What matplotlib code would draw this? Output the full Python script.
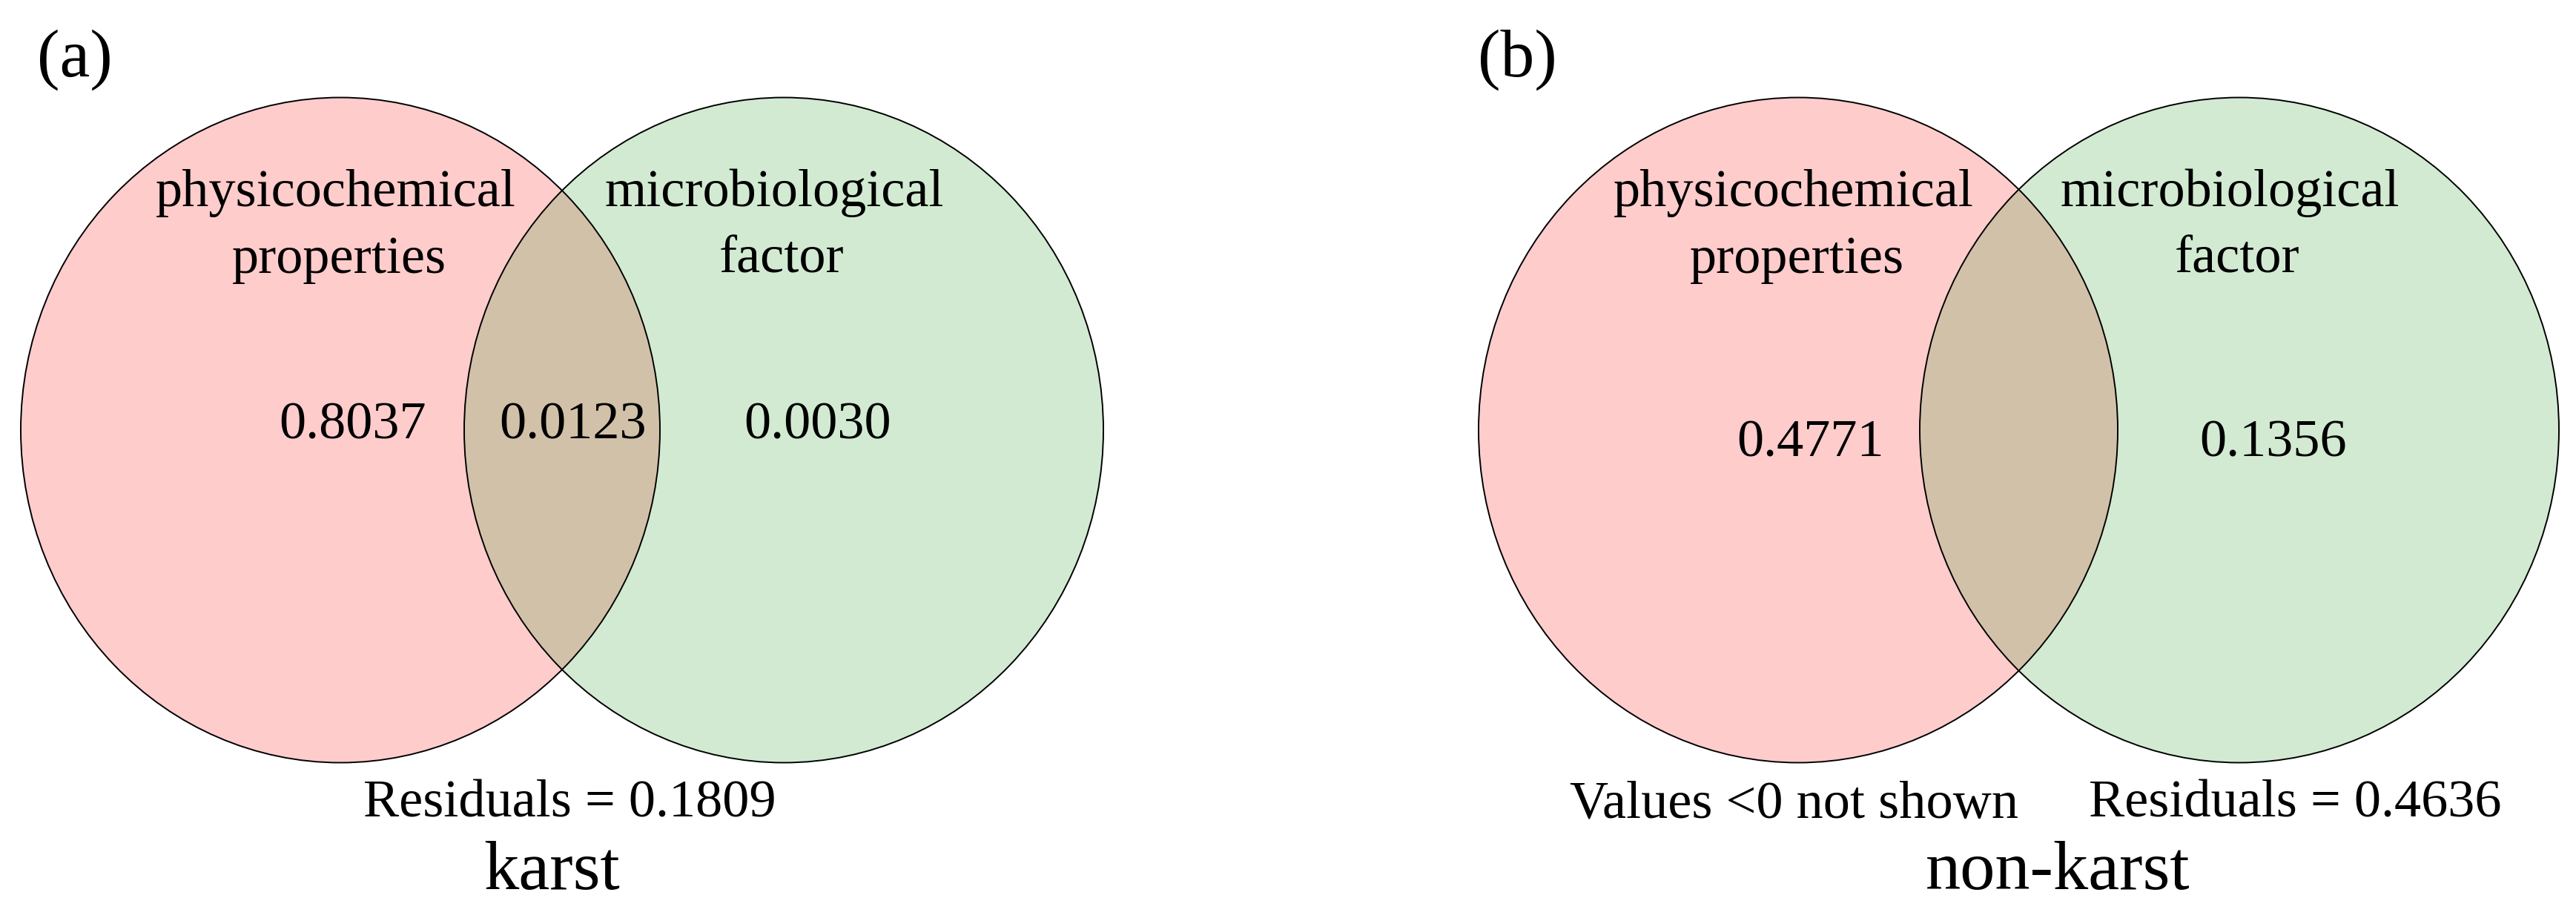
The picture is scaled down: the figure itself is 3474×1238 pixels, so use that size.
import matplotlib
matplotlib.use('Agg')
import matplotlib.pyplot as plt
from matplotlib.patches import Ellipse

# variation partitioning results (vegan style venn)
panel_tags = ['(a)', '(b)']
panel_titles = ['karst', 'non-karst']
set_names = ['physicochemical\nproperties', 'microbiological\nfactor']
only_phys = [0.8037, 0.4771]
shared = [0.0123, None]      # negative value in non-karst, not shown
only_micro = [0.0030, 0.1356]
residuals = [0.1809, 0.4636]

FONT = ['Liberation Serif', 'DejaVu Serif']
W, H = 3474, 1238

fig = plt.figure(figsize=(W / 100, H / 100), dpi=100)
ax = fig.add_axes([0, 0, 1, 1])
ax.set_xlim(0, W)
ax.set_ylim(H, 0)
ax.axis('off')

# layout per panel (pixel units)
left_cx = [459, 2425]
right_cx = [1057, 3020]
cy = 580
ew, eh = 862, 897
num_y = [592, 615]

for i in range(2):
    # fills first, then outlines on top
    for cx, col in [(left_cx[i], (1.0, 0.0, 0.0, 0.2)),
                    (right_cx[i], (0.12, 0.60, 0.12, 0.2))]:
        ax.add_patch(Ellipse((cx, cy), ew, eh, facecolor=col, edgecolor='none'))
    for cx in [left_cx[i], right_cx[i]]:
        ax.add_patch(Ellipse((cx, cy), ew, eh, facecolor='none',
                             edgecolor='black', linewidth=1.4))

    # set names
    ax.text(left_cx[i] - 6, 278, set_names[0].split('\n')[0], ha='center',
            va='baseline', fontsize=52, family=FONT)
    ax.text(left_cx[i] - 2, 368, set_names[0].split('\n')[1], ha='center',
            va='baseline', fontsize=52, family=FONT)
    ax.text(right_cx[i] - 13, 278, set_names[1].split('\n')[0], ha='center',
            va='baseline', fontsize=52, family=FONT)
    ax.text(right_cx[i] - 3, 368, set_names[1].split('\n')[1], ha='center',
            va='baseline', fontsize=52, family=FONT)

    # fractions
    ax.text(left_cx[i] + 17, num_y[i], f'{only_phys[i]:.4f}', ha='center',
            va='baseline', fontsize=52, family=FONT)
    if shared[i] is not None:
        mid = (left_cx[i] + right_cx[i]) / 2
        ax.text(mid + 15, num_y[i], f'{shared[i]:.4f}', ha='center',
                va='baseline', fontsize=52, family=FONT)
    ax.text(right_cx[i] + 46, num_y[i], f'{only_micro[i]:.4f}', ha='center',
            va='baseline', fontsize=52, family=FONT)

    ax.text([50, 1993][i], 103, panel_tags[i], ha='left', va='baseline',
            fontsize=66, family=FONT)

# residuals / notes
ax.text(768, 1102, f'Residuals = {residuals[0]:.4f}', ha='center',
        va='baseline', fontsize=52, family=FONT)
ax.text(2722, 1102, 'Values <0 not shown', ha='right', va='baseline',
        fontsize=52, family=FONT)
ax.text(2817, 1102, f'Residuals = {residuals[1]:.4f}', ha='left',
        va='baseline', fontsize=52, family=FONT)

ax.text(744, 1199, panel_titles[0], ha='center', va='baseline',
        fontsize=68, family=FONT)
ax.text(2775, 1199, panel_titles[1], ha='center', va='baseline',
        fontsize=68, family=FONT)

fig.savefig('out.png', dpi=100, facecolor='white')
